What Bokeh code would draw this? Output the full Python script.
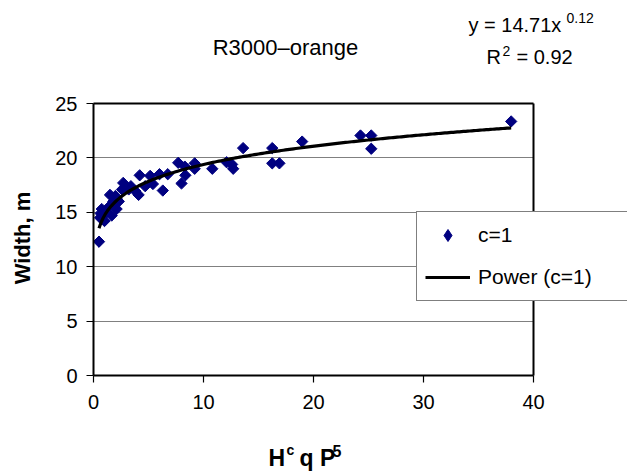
import numpy as np
from bokeh.plotting import figure
from bokeh.models import Range1d, Label, Legend, LegendItem, FixedTicker, LinearAxis
from bokeh.embed import file_html
from bokeh.resources import INLINE

# ---- data ----
x_vals = [0.5, 0.6, 0.65, 0.75, 1.0, 1.2, 1.4, 1.5, 1.65, 1.8, 2.0, 2.1, 2.1, 2.3,
          2.6, 2.7, 3.2, 3.4, 3.8, 4.1, 4.2, 4.7, 5.15, 5.4, 6.0, 6.3, 6.75,
          7.7, 8.0, 8.3, 8.35, 9.2, 9.2, 10.8, 12.1, 12.6, 12.7, 13.6,
          16.25, 16.25, 16.9, 18.97, 24.27, 25.25, 25.25, 37.97]
y_vals = [12.3, 14.5, 14.9, 15.3, 14.2, 15.0, 15.5, 16.6, 14.7, 16.0, 16.5, 15.3, 16.3, 16.0,
          17.1, 17.7, 17.1, 17.4, 16.95, 16.6, 18.4, 17.4, 18.35, 17.6, 18.5, 17.0, 18.5,
          19.55, 17.65, 19.2, 18.4, 19.5, 19.0, 19.0, 19.6, 19.4, 19.0, 20.9,
          20.9, 19.5, 19.5, 21.5, 22.06, 22.06, 20.84, 23.35]

# power trend line coefficients as printed on the chart
fit_a = 14.71
fit_b = 0.12
fit_r2 = 0.92

x_ticks = [0, 10, 20, 30, 40]
y_ticks = [0, 5, 10, 15, 20, 25]
x_lo, x_hi = 0, 40
y_lo, y_hi = 0, 25

title_text = "R3000\u2013orange"
series_label = "c=1"
trend_label = "Power (c=1)"
y_label = "Width, m"

FONT = "Liberation Sans"

# ---- layout (pixels) ----
W, H = 627, 472
PL, PR, PT, PB = 93, 533, 103, 375     # plot-area box in canvas pixels
sx = (PR - PL) / (x_hi - x_lo)
sy = (PB - PT) / (y_hi - y_lo)
xr = Range1d(x_lo - PL / sx, x_lo + (W - PL) / sx)
yr = Range1d(y_lo - (H - PB) / sy, y_lo + PB / sy)

p = figure(width=W, height=H, x_range=xr, y_range=yr,
           output_backend="svg", toolbar_location=None,
           min_border=0, x_axis_location="below", y_axis_location="left")
p.title.visible = False
p.background_fill_color = "white"
p.border_fill_color = "white"
p.outline_line_color = None
p.xgrid.visible = False
p.ygrid.visible = False

# gridlines drawn as long inward ticks of a label-less axis (so they stop at the plot box)
grid_ticks = [t for t in y_ticks if y_lo < t < y_hi]
gax = LinearAxis(fixed_location=x_lo, bounds=(y_lo, y_hi),
                 ticker=FixedTicker(ticks=grid_ticks),
                 major_label_overrides={t: "" for t in grid_ticks},
                 axis_line_color=None, minor_tick_line_color=None,
                 major_tick_in=int(PR - PL), major_tick_out=0,
                 major_tick_line_color="#808080", major_tick_line_width=1.2,
                 level="underlay")
p.add_layout(gax, "left")

# main axes
xa = p.xaxis[0]
ya = p.yaxis[0]
xa.fixed_location = y_lo
ya.fixed_location = x_lo
xa.bounds = (x_lo, x_hi)
ya.bounds = (y_lo, y_hi)
xa.ticker = FixedTicker(ticks=x_ticks)
ya.ticker = FixedTicker(ticks=y_ticks)
for ax in (xa, ya):
    ax.axis_line_color = "black"
    ax.axis_line_width = 2
    ax.major_tick_line_color = "black"
    ax.major_tick_line_width = 1.2
    ax.major_tick_out = 7
    ax.major_tick_in = 0
    ax.minor_tick_line_color = None
    ax.major_label_text_font = FONT
    ax.major_label_text_font_size = "20px"
    ax.major_label_text_color = "black"
xa.major_label_standoff = 12
ya.major_label_standoff = 9

# top and right edges of the plot box
for side, loc, bnds in (("above", y_hi, (x_lo, x_hi)), ("right", x_hi, (y_lo, y_hi))):
    bax = LinearAxis(fixed_location=loc, bounds=bnds,
                     ticker=FixedTicker(ticks=[]),
                     axis_line_color="black", axis_line_width=2,
                     major_tick_line_color=None, minor_tick_line_color=None)
    p.add_layout(bax, side)

# scatter
pts = p.scatter(x_vals, y_vals, marker="square", size=8, angle=np.pi / 4,
                fill_color="#000080", line_color="#000080")
# legend swatch (diamond) drawn over the first point
pts_key = p.scatter(x=x_vals[:1], y=y_vals[:1], marker="diamond", size=11,
                    fill_color="#000080", line_color="#000080")

# trend line from printed coefficients
xs = np.linspace(min(x_vals), max(x_vals), 200)
ys = fit_a * xs ** fit_b
ln = p.line(xs, ys, line_color="black", line_width=3.2)

legend = Legend(items=[LegendItem(label=series_label, renderers=[pts_key]),
                       LegendItem(label=trend_label, renderers=[ln])],
                location=(416, H - 301), orientation="vertical",
                glyph_width=45, glyph_height=30, label_height=30,
                label_width=170, label_standoff=8, spacing=12, padding=8,
                margin=0,
                border_line_color="black", border_line_width=1,
                background_fill_color="white", background_fill_alpha=1.0,
                label_text_font=FONT, label_text_font_size="21px",
                label_text_color="black")
p.add_layout(legend, "center")


def lab(text, px, py, size, bold=False, align="left", baseline="alphabetic", angle=0.0):
    if baseline == "alphabetic":
        py = py - 0.42 * size
    p.add_layout(Label(x=px, y=H - py, x_units="screen", y_units="screen", text=text,
                       text_font=FONT, text_font_size="%dpx" % size,
                       text_font_style="bold" if bold else "normal",
                       text_align=align, text_baseline=baseline, angle=angle,
                       text_color="black"))


# title
lab(title_text, 285, 56.7, 22, align="center")

# equation
lab("y = %.2fx" % fit_a, 468, 33, 20)
lab("%.2f" % fit_b, 566, 23.5, 14)
lab("R", 486, 65, 20)
lab("2", 502, 56.5, 14)
lab("= %.2f" % fit_r2, 516, 65, 20)

# y axis label
lab(y_label, 22, 237.5, 22, bold=True, align="center",
    baseline="middle", angle=np.pi / 2)

# x axis label: H^c q P^5
lab("H", 268, 466.7, 23, bold=True)
lab("c", 286, 455.5, 14, bold=True)
lab("q P", 299, 466.7, 23, bold=True)
lab("5", 332, 457, 16, bold=True)

open("out.html", "w").write(file_html(p, INLINE))
